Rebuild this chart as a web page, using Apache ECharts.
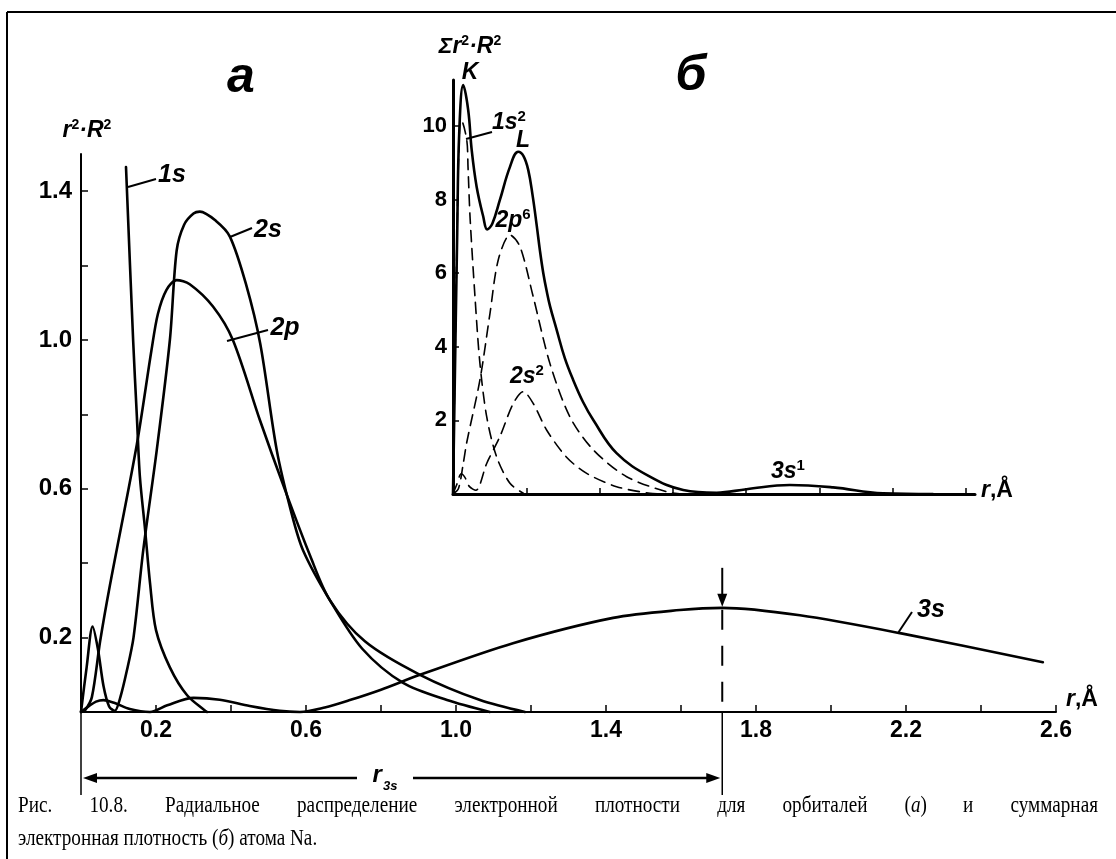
<!DOCTYPE html>
<html><head><meta charset="utf-8">
<script src="https://cdn.jsdelivr.net/npm/echarts@6/dist/echarts.min.js"></script>
<style>html,body{margin:0;padding:0;background:#fff}#c{width:1116px;height:859px}</style>
</head><body><div id="c"></div>
<script>
// ---------- axis ticks / labels ----------
const mainXTicks  = [0.2,0.4,0.6,0.8,1.0,1.2,1.4,1.6,1.8,2.0,2.2,2.4,2.6];
const mainXLabels = [0.2,0.6,1.0,1.4,1.8,2.2,2.6];
const mainYTicks  = [0.2,0.4,0.6,0.8,1.0,1.2,1.4];
const mainYLabels = [0.2,0.6,1.0,1.4];
const insetXTicks = [0.4,0.8,1.2,1.6,2.0,2.4,2.8];
const insetYTicks = [2,4,6,8,10];

// ---------- (a) orbital radial densities r^2 R^2 vs r (Å) ----------
const orb1s = [[0.12,1.465],[0.139,1.0],[0.149,0.794],[0.157,0.633],[0.171,0.489],[0.184,0.347],[0.2,0.22],[0.237,0.12],[0.283,0.045],[0.336,0]];
const orb2s = [[0,0],[0.015,0.12],[0.031,0.23],[0.045,0.17],[0.06,0.07],[0.075,0.015],[0.09,0.003],[0.105,0.04],[0.122,0.11],[0.14,0.2],[0.166,0.435],[0.202,0.704],[0.237,1.0],[0.255,1.24],[0.275,1.31],[0.3,1.34],[0.317,1.345],[0.36,1.32],[0.397,1.278],[0.44,1.15],[0.478,0.99],[0.522,0.704],[0.56,0.54],[0.592,0.435],[0.664,0.3],[0.75,0.17],[0.859,0.078],[0.976,0.032],[1.09,0]];
const orb2p = [[0,0],[0.011,0.005],[0.029,0.04],[0.051,0.19],[0.077,0.34],[0.149,0.72],[0.188,0.973],[0.205,1.07],[0.228,1.135],[0.255,1.161],[0.29,1.15],[0.352,1.09],[0.405,1.0],[0.477,0.785],[0.544,0.597],[0.611,0.42],[0.664,0.3],[0.757,0.19],[0.904,0.1],[1.064,0.032],[1.184,0]];
const orb3s = [[0,0],[0.02,0.015],[0.04,0.028],[0.06,0.032],[0.09,0.024],[0.13,0.008],[0.184,0],[0.23,0.018],[0.3,0.038],[0.37,0.033],[0.45,0.016],[0.53,0.003],[0.584,0],[0.65,0.012],[0.717,0.032],[0.8,0.06],[0.904,0.1],[1.152,0.185],[1.419,0.253],[1.597,0.274],[1.71,0.28],[1.917,0.26],[2.184,0.212],[2.565,0.134]];
const r3s = 1.71;

// ---------- (б) summed density Σ r^2 R^2 ----------
const sumTotal = [[0,0],[0.023,7.09],[0.034,9.81],[0.056,11.11],[0.083,10.43],[0.102,9.35],[0.129,8.35],[0.165,7.54],[0.187,7.19],[0.215,7.35],[0.256,7.99],[0.311,8.89],[0.356,9.3],[0.385,9.18],[0.411,8.8],[0.435,8.1],[0.457,7.3],[0.475,6.6],[0.493,6.0],[0.512,5.5],[0.53,5.1],[0.566,4.46],[0.61,3.7],[0.656,3.1],[0.71,2.5],[0.766,2.01],[0.893,1.11],[1.075,0.47],[1.257,0.11],[1.439,0.035],[1.603,0.13],[1.839,0.245],[2.075,0.18],[2.348,0.02],[2.62,0]];
const sum1s2 = [[0,0],[0.016,5.27],[0.03,9.08],[0.038,10.1],[0.044,10.16],[0.075,9.62],[0.082,8.89],[0.093,7.53],[0.12,5.36],[0.147,3.55],[0.184,2.1],[0.238,1.01],[0.311,0.29],[0.384,0.02]];
const sum2p6 = [[0,0],[0.03,0.15],[0.055,0.8],[0.075,1.4],[0.147,3.1],[0.202,4.91],[0.247,6.36],[0.311,7.04],[0.366,6.72],[0.438,5.36],[0.529,3.55],[0.638,2.1],[0.766,1.2],[0.948,0.47],[1.166,0.06],[1.25,0]];
const sum2s2 = [[0,0],[0.02,0.25],[0.045,0.55],[0.065,0.45],[0.09,0.2],[0.125,0.1],[0.184,0.83],[0.256,1.56],[0.329,2.46],[0.384,2.78],[0.438,2.46],[0.511,1.74],[0.62,1.0],[0.73,0.56],[0.893,0.2],[1.075,0.02],[1.15,0]];

const SANS = '"Liberation Sans", Arial, Helvetica, sans-serif';
const SERIF = '"Liberation Serif", "Times New Roman", serif';

const chart = echarts.init(document.getElementById('c'));

function line(name, data, grid, dashed, width, sm) {
  return {
    name, type:'line', data, xAxisIndex:grid, yAxisIndex:grid,
    symbol:'none', smooth:sm, clip:false, silent:true,
    lineStyle:{color:'#000', width:width, type: dashed ? [11,7] : 'solid', cap:'round', join:'round'}
  };
}
function axisCommon(lineW) {
  return {
    axisLine:{show:true, onZero:false, lineStyle:{color:'#000', width:lineW}},
    splitLine:{show:false}
  };
}

chart.setOption({
  animation:false,
  backgroundColor:'#fff',
  grid:[
    {left:81, right:60, top:154, bottom:147},
    {left:453, right:141, top:80, bottom:365}
  ],
  xAxis:[
    Object.assign({type:'value', gridIndex:0, min:0, max:2.6,
      axisTick:{show:true, inside:true, length:7, customValues:mainXTicks, lineStyle:{color:'#000', width:1.5}},
      axisLabel:{show:true, customValues:mainXLabels, formatter:v=>v.toFixed(1), color:'#000', fontFamily:SANS, fontWeight:'bold', fontSize:23, margin:7}
    }, axisCommon(2)),
    Object.assign({type:'value', gridIndex:1, min:0, max:2.85,
      axisTick:{show:true, inside:true, length:6, customValues:insetXTicks, lineStyle:{color:'#000', width:1.5}},
      axisLabel:{show:false}
    }, axisCommon(3))
  ],
  yAxis:[
    Object.assign({type:'value', gridIndex:0, min:0, max:1.5,
      axisTick:{show:true, inside:true, length:7, customValues:mainYTicks, lineStyle:{color:'#000', width:1.5}},
      axisLabel:{show:true, customValues:mainYLabels, formatter:v=>v.toFixed(1), color:'#000', fontFamily:SANS, fontWeight:'bold', fontSize:24, margin:9}
    }, axisCommon(2)),
    Object.assign({type:'value', gridIndex:1, min:0, max:11.25,
      axisTick:{show:true, inside:true, length:6, customValues:insetYTicks, lineStyle:{color:'#000', width:1.5}},
      axisLabel:{show:true, customValues:insetYTicks, color:'#000', fontFamily:SANS, fontWeight:'bold', fontSize:22, margin:6}
    }, axisCommon(3))
  ],
  series:[
    line('1s', orb1s, 0, false, 2.6, 0.3),
    line('2s', orb2s, 0, false, 2.6, 0.3),
    line('2p', orb2p, 0, false, 2.6, 0.3),
    line('3s', orb3s, 0, false, 2.6, 0.3),
    line('Σ', sumTotal, 1, false, 2.6, 0.4),
    line('1s2', sum1s2, 1, true, 1.6, 0.3),
    line('2p6', sum2p6, 1, true, 1.6, 0.3),
    line('2s2', sum2s2, 1, true, 1.6, 0.3)
  ]
});

// ---------- annotations ----------
function txt(x, y, text, size, opt) {
  opt = opt || {};
  const el = {type:'text', x, y, silent:true, z:10, style:Object.assign({
    text, fill:'#000', fontFamily: opt.family || SANS, fontSize:size,
    fontWeight: opt.weight || 'bold', fontStyle: opt.style || 'italic',
    align: opt.align || 'center', verticalAlign: opt.valign || 'middle'
  }, opt.extra || {})};
  if (opt.scaleX) el.scaleX = opt.scaleX;
  return el;
}
function supTxt(x, y, parts, size, supSize, align) {
  const rich = {
    n:{fontFamily:SANS, fontSize:size, fontWeight:'bold', fontStyle:'italic', fill:'#000', verticalAlign:'bottom'},
    u:{fontFamily:SANS, fontSize:size, fontWeight:'bold', fontStyle:'normal', fill:'#000', verticalAlign:'bottom'},
    s:{fontFamily:SANS, fontSize:supSize, fontWeight:'bold', fontStyle:'normal', fill:'#000', verticalAlign:'bottom', padding:[0,0,Math.round(size*0.42),0]}
  };
  const text = parts.map(p => '{' + p[1] + '|' + p[0] + '}').join('');
  return {type:'text', x, y, silent:true, z:10, style:{text, align:align||'center', verticalAlign:'middle', rich}};
}
function seg(x1,y1,x2,y2,w,dash) {
  return {type:'line', silent:true, z:10, shape:{x1,y1,x2,y2}, style:{stroke:'#000', lineWidth:w||2, lineDash:dash||null}};
}
function tri(pts) {
  return {type:'polygon', silent:true, z:10, shape:{points:pts}, style:{fill:'#000'}};
}

const peak3s = orb3s.find(p => p[0] === r3s)[1];
const pPeak = chart.convertToPixel({xAxisIndex:0, yAxisIndex:0}, [r3s, peak3s]);
const pBase = chart.convertToPixel({xAxisIndex:0, yAxisIndex:0}, [r3s, 0]);
const pOrig = chart.convertToPixel({xAxisIndex:0, yAxisIndex:0}, [0, 0]);
const xr = pPeak[0], yPk = pPeak[1], yAx = pBase[1], x0 = pOrig[0];
const yArrow = 778, yLow = 795;

const g = [];
// frame
g.push(seg(7,12,1116,12,2));
g.push(seg(7,12,7,859,2));
// r3s marker
g.push(seg(xr, yPk-40, xr, yPk-12, 2));
g.push(tri([[xr-5,yPk-14],[xr+5,yPk-14],[xr,yPk-1]]));
g.push(seg(xr, yPk+2, xr, yAx, 2, [20,16]));
g.push(seg(xr, yAx, xr, yLow, 1.5));
g.push(seg(x0, yAx, x0, yLow, 1.5));
// r3s double arrow
g.push(seg(x0+10, yArrow, 357, yArrow, 2.5));
g.push(seg(413, yArrow, xr-10, yArrow, 2.5));
g.push(tri([[x0+2,yArrow],[x0+16,yArrow-5],[x0+16,yArrow+5]]));
g.push(tri([[xr-2,yArrow],[xr-16,yArrow-5],[xr-16,yArrow+5]]));
g.push({type:'text', x:385, y:yArrow, silent:true, z:10, style:{
  text:'{r|r}{s|3s}', align:'center', verticalAlign:'middle',
  rich:{ r:{fontFamily:SANS, fontSize:24, fontWeight:'bold', fontStyle:'italic', fill:'#000', verticalAlign:'top'},
         s:{fontFamily:SANS, fontSize:13, fontWeight:'bold', fontStyle:'italic', fill:'#000', padding:[16,0,0,1], verticalAlign:'bottom'} }
}});
// panel letters
g.push(txt(241, 78, 'а', 50));
g.push(txt(691, 76, 'б', 50));
// axis titles
g.push(supTxt(87, 130, [['r','n'],['2','s'],['·R','n'],['2','s']], 23, 14));
g.push(supTxt(470, 46, [['Σr','n'],['2','s'],['·R','n'],['2','s']], 23, 14));
g.push(supTxt(1082, 700, [['r','n'],[',Å','u']], 23, 14));
g.push(supTxt(997, 491, [['r','n'],[',Å','u']], 23, 14));
// (a) curve labels and leaders
g.push(txt(172, 175, '1s', 25));
g.push(seg(128,187,156,179,2));
g.push(txt(268, 230, '2s', 25));
g.push(seg(230,237,252,228,2));
g.push(txt(285, 328, '2p', 25));
g.push(seg(227,341,268,330,2));
g.push(txt(931, 610, '3s', 25));
g.push(seg(898,633,912,612,2));
// (б) labels
g.push(txt(470, 73, 'K', 23));
g.push(supTxt(509, 122, [['1s','n'],['2','s']], 23, 15));
g.push(seg(466,139,492,132,2));
g.push(txt(523, 141, 'L', 23));
g.push(supTxt(513, 220, [['2p','n'],['6','s']], 23, 15));
g.push(supTxt(527, 376, [['2s','n'],['2','s']], 23, 15));
g.push(supTxt(788, 471, [['3s','n'],['1','s']], 23, 15));

// caption: condensed serif, first line justified across the frame
const capFont = 24, capScale = 0.8;
const line1 = ['Рис.', '10.8.', 'Радиальное', 'распределение', 'электронной', 'плотности', 'для', 'орбиталей', '(а)', 'и', 'суммарная'];
const ctx = document.createElement('canvas').getContext('2d');
ctx.font = capFont + 'px ' + SERIF;
const widths = line1.map(w => ctx.measureText(w).width * capScale);
const capL = 18, capR = 1098;
const gap = (capR - capL - widths.reduce((a,b)=>a+b,0)) / (line1.length - 1);
const richI = {i:{fontFamily:SERIF, fontSize:capFont, fontStyle:'italic', fill:'#000'}};
let cx = capL;
line1.forEach((w,i) => {
  if (w === '(а)') {
    g.push({type:'text', x:cx, y:806, scaleX:capScale, silent:true, z:10, style:{text:'({i|а})', align:'left', verticalAlign:'middle',
      fontFamily:SERIF, fontSize:capFont, fill:'#000', rich:richI}});
  } else {
    g.push(txt(cx, 806, w, capFont, {family:SERIF, weight:'normal', style:'normal', align:'left', scaleX:capScale}));
  }
  cx += widths[i] + gap;
});
g.push({type:'text', x:capL, y:839, scaleX:capScale, silent:true, z:10, style:{text:'электронная плотность ({i|б}) атома Na.', align:'left', verticalAlign:'middle',
  fontFamily:SERIF, fontSize:capFont, fill:'#000', rich:richI}});

chart.setOption({graphic:g});
</script></body></html>
